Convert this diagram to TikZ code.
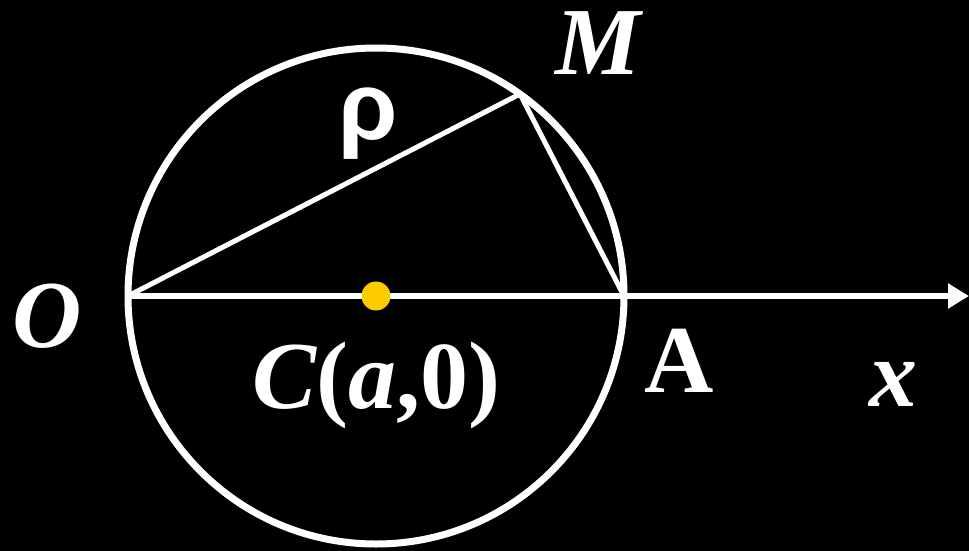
\documentclass[tikz,border=0pt]{standalone}
\usepackage{fontspec}
\setmainfont{Liberation Serif}
\newfontfamily\rhofont{Liberation Sans}
\usetikzlibrary{arrows.meta, calc}
\definecolor{dotyellow}{HTML}{FFCC00}

\begin{document}
\begin{tikzpicture}[
      x=0.5pt, y=-0.5pt,
      rim/.style={draw=white, line width=3.5pt},
      chord/.style={draw=white, line width=2.5pt},
      axis/.style={draw=white, line width=3pt, -{Triangle[length=10.5pt, width=12pt]}},
      lab/.style={text=white, inner sep=0pt, anchor=base, font=\fontsize{48}{50}\selectfont\bfseries},
      labit/.style={lab, font=\fontsize{48}{50}\selectfont\bfseries\itshape}
    ]
    \fill[black] (0,0) rectangle (969,551);
    \useasboundingbox (0,0) rectangle (969,551);

    \coordinate (C) at (376,296);
    \coordinate (O) at (128,296);
    \coordinate (A) at (624,296);
    \coordinate (M) at (520,94);
    \coordinate (xend) at (969,296);

    \draw[axis] (O) -- (xend);
    \draw[chord] (O) -- (M) -- (A);
    \draw[rim] (C) circle[radius=124pt];
    \fill[dotyellow] (C) circle[radius=7.25pt];

    \node[labit] (Olab) at (47,347) {O};
    \node[labit] (Mlab) at (598,75) {M};
    \node[lab] (rho) at (368,140) {\rhofont ρ};
    \node[lab] (Clab) at (376,408) {{\itshape C}(\textit{a},0)};
    \node[lab] (Alab) at (679,392) {A};
    \node[labit] (xlab) at (893,406) {x};
  \end{tikzpicture}
\end{document}
